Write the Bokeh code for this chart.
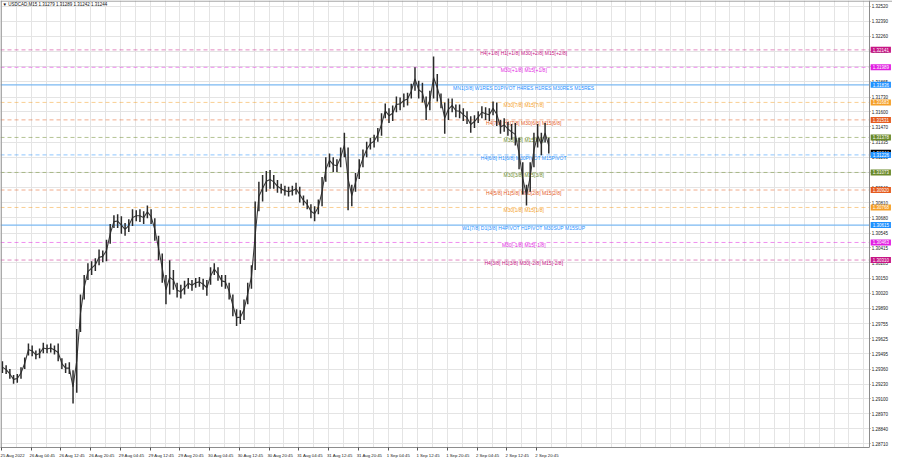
from bokeh.plotting import figure
from bokeh.models import FixedTicker, Range1d, Label, Span, NumeralTickFormatter
from bokeh.embed import file_html
from bokeh.resources import INLINE
from bokeh.core.properties import value

# ---------------- data ----------------
# hourly highs / lows of USDCAD (25 Aug 2022 20:45 .. 2 Sep 2022 23:45)
hour_high = [
    1.29428, 1.29394, 1.29360, 1.29309, 1.29317, 1.29377, 1.29462, 1.29582, 1.29565, 1.29522,
    1.29539, 1.29590, 1.29574, 1.29582, 1.29565, 1.29582, 1.29454, 1.29411, 1.29420, 1.29351,
    1.29710, 1.30009, 1.30180, 1.30282, 1.30299, 1.30325, 1.30402, 1.30393, 1.30487, 1.30624,
    1.30700, 1.30709, 1.30692, 1.30632, 1.30666, 1.30752, 1.30743, 1.30752, 1.30735, 1.30786,
    1.30752, 1.30675, 1.30521, 1.30368, 1.30180, 1.30308, 1.30223, 1.30112, 1.30094, 1.30129,
    1.30154, 1.30137, 1.30154, 1.30163, 1.30146, 1.30137, 1.30248, 1.30282, 1.30248, 1.30180,
    1.30180, 1.30112, 1.30009, 1.29881, 1.29872, 1.29966, 1.30112, 1.30265, 1.30820, 1.30991,
    1.31051, 1.31085, 1.31094, 1.31051, 1.31008, 1.30974, 1.30957, 1.30948, 1.30957, 1.30983,
    1.30948, 1.30872, 1.30837, 1.30795, 1.30778, 1.30837, 1.31034, 1.31205, 1.31239, 1.31205,
    1.31187, 1.31290, 1.31418, 1.31290, 1.30966, 1.31068, 1.31187, 1.31273, 1.31341, 1.31375,
    1.31401, 1.31461, 1.31589, 1.31674, 1.31632, 1.31657, 1.31734, 1.31726, 1.31760, 1.31768,
    1.31845, 1.31990, 1.31871, 1.31854, 1.31734, 1.31785, 1.32084, 1.31931, 1.31760, 1.31683,
    1.31717, 1.31717, 1.31666, 1.31666, 1.31632, 1.31606, 1.31563, 1.31572, 1.31606, 1.31649,
    1.31640, 1.31632, 1.31691, 1.31683, 1.31529, 1.31546, 1.31512, 1.31495, 1.31503, 1.31375,
    1.31162, 1.30966, 1.31162, 1.31418, 1.31495, 1.31418, 1.31503, 1.31375,
]
hour_low = [
    1.29326, 1.29317, 1.29275, 1.29232, 1.29240, 1.29275, 1.29360, 1.29479, 1.29471, 1.29445,
    1.29454, 1.29497, 1.29497, 1.29505, 1.29488, 1.29428, 1.29360, 1.29326, 1.29317, 1.29061,
    1.29155, 1.29684, 1.29966, 1.30137, 1.30180, 1.30214, 1.30265, 1.30291, 1.30299, 1.30453,
    1.30590, 1.30590, 1.30538, 1.30521, 1.30555, 1.30607, 1.30649, 1.30641, 1.30624, 1.30675,
    1.30624, 1.30479, 1.30308, 1.30112, 1.29924, 1.30009, 1.30052, 1.29983, 1.29975, 1.30009,
    1.30060, 1.30043, 1.30069, 1.30077, 1.30052, 1.30000, 1.30094, 1.30180, 1.30129, 1.30077,
    1.30060, 1.29966, 1.29821, 1.29736, 1.29753, 1.29787, 1.29924, 1.30060, 1.30223, 1.30735,
    1.30820, 1.30906, 1.30931, 1.30931, 1.30897, 1.30889, 1.30872, 1.30863, 1.30872, 1.30880,
    1.30812, 1.30786, 1.30752, 1.30675, 1.30649, 1.30709, 1.30778, 1.30991, 1.31119, 1.31076,
    1.31076, 1.31119, 1.31205, 1.30743, 1.30778, 1.30906, 1.31017, 1.31119, 1.31205, 1.31273,
    1.31290, 1.31341, 1.31393, 1.31546, 1.31503, 1.31521, 1.31597, 1.31615, 1.31640, 1.31657,
    1.31717, 1.31785, 1.31717, 1.31683, 1.31529, 1.31615, 1.31717, 1.31691, 1.31632, 1.31410,
    1.31529, 1.31597, 1.31555, 1.31546, 1.31521, 1.31495, 1.31418, 1.31461, 1.31503, 1.31546,
    1.31529, 1.31521, 1.31572, 1.31478, 1.31410, 1.31427, 1.31393, 1.31358, 1.31307, 1.31102,
    1.30880, 1.30786, 1.30906, 1.31119, 1.31290, 1.31222, 1.31333, 1.31239,
]
last_ohlc = [1.31279, 1.31289, 1.31242, 1.31244]

time_labels = ["25 Aug 2022", "26 Aug 04:45", "26 Aug 12:45", "26 Aug 20:45",
               "29 Aug 04:45", "29 Aug 12:45", "29 Aug 20:45", "30 Aug 04:45",
               "30 Aug 12:45", "30 Aug 20:45", "31 Aug 04:45", "31 Aug 12:45",
               "31 Aug 20:45", "1 Sep 04:45", "1 Sep 12:45", "1 Sep 20:45",
               "2 Sep 04:45", "2 Sep 12:45", "2 Sep 20:45"]
time_label_bars = [0, 32, 64, 96, 128, 160, 192, 224, 256, 288, 320, 352,
                   384, 416, 448, 480, 512, 544, 576]

price_ticks = [1.28710, 1.28840, 1.28970, 1.29100, 1.29230, 1.29360, 1.29495, 1.29625,
               1.29755, 1.29890, 1.30020, 1.30150, 1.30285, 1.30415, 1.30545, 1.30680,
               1.30810, 1.30940, 1.31075, 1.31205, 1.31335, 1.31470, 1.31600, 1.31730,
               1.31865, 1.31995, 1.32130, 1.32260, 1.32390, 1.32520]

levels = [1.32141, 1.31989, 1.31836, 1.31683, 1.31531, 1.31378, 1.31226,
          1.31073, 1.30920, 1.30768, 1.30615, 1.30463, 1.30310]
level_names = ["H4[+1/8] H1[+1/8] M30[+2/8] M15[+2/8]",
               "M30[+1/8] M15[+1/8]",
               "MN1[3/8] W1RES D1PIVOT H4RES H1RES M30RES M15RES",
               "M30[7/8] M15[7/8]",
               "H4[7/8] H1[7/8] M30[6/8] M15[6/8]",
               "M30[5/8] M15[5/8]",
               "H4[6/8] H1[6/8] M30PIVOT M15PIVOT",
               "M30[3/8] M15[3/8]",
               "H4[5/8] H1[5/8] M30[2/8] M15[2/8]",
               "M30[1/8] M15[1/8]",
               "W1[7/8] D1[3/8] H4PIVOT H1PIVOT M30SUP M15SUP",
               "M30[-1/8] M15[-1/8]",
               "H4[3/8] H1[3/8] M30[-2/8] M15[-2/8]"]

# ---------------- styles ----------------
C_MVR, C_MAG, C_BLUE, C_ORG, C_RED, C_OLV = "#C71585", "#E21FE2", "#1E90FF", "#F5A028", "#E55B1E", "#6B8A2A"
level_colors = [C_MVR, C_MAG, C_BLUE, C_ORG, C_RED, C_OLV, C_BLUE,
                C_OLV, C_RED, C_ORG, C_BLUE, C_MAG, C_MVR]
level_solid = [False, False, True, False, False, False, False,
               False, False, False, True, False, False]
FONT = "Liberation Sans"
X0, XB, X1 = -1.07, 934.4, 958.9          # left edge, chart border, right edge (bar units)
Y0, Y1 = 1.28677, 1.32571
BORDER = "#8c8c8c"

p = figure(width=892, height=460,
           x_range=Range1d(X0, X1), y_range=Range1d(Y0, Y1),
           output_backend="svg", toolbar_location=None,
           x_axis_location="below", y_axis_location="right",
           min_border_left=0, min_border_top=0, min_border_right=0, min_border_bottom=12)
p.background_fill_color = "white"
p.border_fill_color = "white"
p.outline_line_color = None

# grids (stop at the chart border)
p.xgrid.ticker = FixedTicker(ticks=list(range(0, 935, 16)))
p.ygrid.ticker = FixedTicker(ticks=price_ticks)
p.ygrid.cross_bounds = (X0, XB)
p.grid.grid_line_color = "#e4e4e4"
p.grid.grid_line_width = 1

# chart borders (left, top)
p.add_layout(Span(location=X0 + 0.6, dimension="height", line_color=BORDER, line_width=1.2))
p.add_layout(Span(location=Y1 - 0.00005, dimension="width", line_color=BORDER, line_width=1))

# price scale: axis fixed at the chart border, labels to its right
ya = p.yaxis[0]
ya.fixed_location = XB
ya.ticker = FixedTicker(ticks=price_ticks)
ya.formatter = NumeralTickFormatter(format="0.00000")
ya.axis_line_color = BORDER
ya.major_tick_out = 1
ya.major_tick_in = 0
ya.major_tick_line_color = BORDER
ya.minor_tick_out = 0
ya.minor_tick_in = 0
ya.major_label_standoff = 1
ya.major_label_text_font = FONT
ya.major_label_text_font_size = "4.5px"
ya.major_label_text_color = "#202020"

# time scale: each date written right of its tick
xa = p.xaxis[0]
label_pos = [b + round(len(t) * 1.0) for b, t in zip(time_label_bars, time_labels)]
xa.ticker = FixedTicker(ticks=label_pos, minor_ticks=time_label_bars)
xa.major_label_overrides = {pos: t for pos, t in zip(label_pos, time_labels)}
xa.bounds = (X0, XB)
xa.axis_line_color = BORDER
xa.major_tick_out = 0
xa.major_tick_in = 0
xa.minor_tick_out = 3
xa.minor_tick_in = 0
xa.minor_tick_line_color = "#555555"
xa.major_label_standoff = 2
xa.major_label_text_font = FONT
xa.major_label_text_font_size = "4.3px"
xa.major_label_text_color = "#202020"

# level lines
for lv, c, solid in zip(levels, level_colors, level_solid):
    if solid:
        p.segment(x0=[X0], x1=[XB], y0=[lv], y1=[lv], line_color="#7AB8F2", line_width=1.2)
    else:
        p.segment(x0=[X0], x1=[XB], y0=[lv], y1=[lv], line_color=c,
                  line_alpha=0.5, line_width=1, line_dash="4 3")

# level texts (behind bars)
p.text(x=[562] * len(levels), y=levels, text=level_names, text_color=level_colors,
       text_font=value(FONT), text_font_size="5px", text_align="center",
       text_baseline="top")

# price bars (hourly high-low strokes on the M15 bar index axis)
xs = [4 * i + 1 for i in range(len(hour_high))]
mids = [(h + l) / 2 for h, l in zip(hour_high, hour_low)]
p.line(x=xs, y=mids, line_color="#3a3a3a", line_width=1.1)
p.segment(x0=xs, y0=hour_low, x1=xs, y1=hour_high, line_color="#2a2a2a", line_width=1.5)

# header
p.add_layout(Label(x=2, y=Y1, x_units="screen", y_units="data", y_offset=-1.5,
                   text="\u25bc USDCAD,M15  " + " ".join(f"{v:.5f}" for v in last_ohlc),
                   text_font=FONT, text_font_size="4.5px", text_color="#101010",
                   text_baseline="top", text_align="left"))

# price tags on the price scale
TAG_X = XB + 1.0
p.add_layout(Label(x=TAG_X, y=last_ohlc[3], x_units="data", y_units="data",
                   text=f"{last_ohlc[3]:.5f}", text_font=FONT, text_font_size="4.5px",
                   text_color="white", background_fill_color="black",
                   text_baseline="middle", text_align="left", padding=(2, 1)))
for lv, c in zip(levels, level_colors):
    p.add_layout(Label(x=TAG_X, y=lv, x_units="data", y_units="data",
                       text=f"{lv:.5f}", text_font=FONT, text_font_size="4.5px",
                       text_color="white", background_fill_color=c,
                       text_baseline="middle", text_align="left", padding=(2, 1)))

open("out.html", "w").write(file_html(p, INLINE))
